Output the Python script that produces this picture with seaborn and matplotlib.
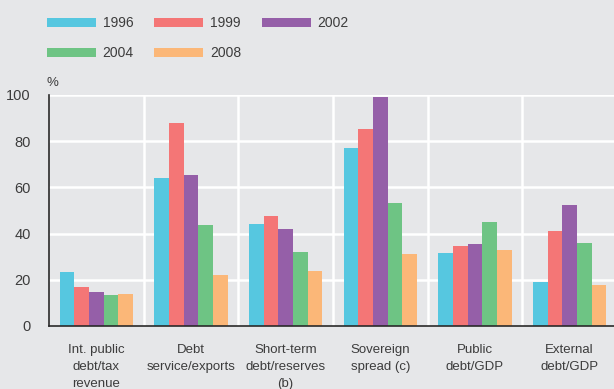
import matplotlib
matplotlib.use("Agg")
import matplotlib.pyplot as plt
import seaborn as sns
import pandas as pd

# Debt indicators by year (per cent)
indicators = [
    "Int. public\ndebt/tax\nrevenue",
    "Debt\nservice/exports",
    "Short-term\ndebt/reserves\n(b)",
    "Sovereign\nspread (c)",
    "Public\ndebt/GDP",
    "External\ndebt/GDP",
]
years = ["1996", "1999", "2002", "2004", "2008"]
v1996 = [23.5, 64.2, 44.3, 77.2, 31.7, 19.2]
v1999 = [17.0, 87.7, 47.7, 85.4, 34.8, 41.2]
v2002 = [14.8, 65.5, 42.1, 99.3, 35.6, 52.4]
v2004 = [13.5, 43.9, 32.2, 53.4, 45.1, 36.0]
v2008 = [14.0, 22.2, 23.9, 31.3, 33.0, 17.9]
series = {"1996": v1996, "1999": v1999, "2002": v2002, "2004": v2004, "2008": v2008}
colors = ["#56C7E0", "#F47676", "#955FA8", "#6EC484", "#FBB778"]

df = pd.DataFrame(
    [(ind, yr, val) for yr in years for ind, val in zip(indicators, series[yr])],
    columns=["indicator", "year", "value"],
)

BG = "#E6E7E9"
TXT = "#3C3C3C"
sns.set_theme(style="white")
plt.rcParams["font.family"] = ["Liberation Sans", "DejaVu Sans"]

fig = plt.figure(figsize=(6.14, 3.89), dpi=100, facecolor=BG)
ax = fig.add_axes([0.0798, 0.162, 0.925, 0.594])
ax.set_facecolor(BG)

sns.barplot(
    data=df, x="indicator", y="value", hue="year",
    order=indicators, hue_order=years, palette=colors,
    width=0.775, saturation=1, gap=0, linewidth=0, ax=ax,
)

ax.set_xlim(-0.5, len(indicators) - 0.5)
ax.set_ylim(0, 100)
ax.set_yticks([0, 20, 40, 60, 80, 100])
ax.set_xlabel("")
ax.set_ylabel("")

# white grid: horizontal at ticks, vertical between categories
for y in [20, 40, 60, 80, 100]:
    ax.axhline(y, color="white", lw=1.8, zorder=0)
for x in [0.5, 1.5, 2.5, 3.5, 4.5]:
    ax.axvline(x, color="white", lw=1.8, zorder=0)

for side in ["top", "right"]:
    ax.spines[side].set_visible(False)
for side in ["left", "bottom"]:
    ax.spines[side].set_color("#2A2A2A")
    ax.spines[side].set_linewidth(1.2)

ax.tick_params(axis="y", length=0, pad=13, labelsize=10.5, labelcolor=TXT)
ax.tick_params(axis="x", length=0, pad=13, labelsize=9.5, labelcolor=TXT)
for lbl in ax.get_xticklabels():
    lbl.set_linespacing(1.58)

ax.text(-0.005, 1.025, "%", transform=ax.transAxes, fontsize=9.5,
        color=TXT, ha="left", va="bottom")

handles, labels = ax.get_legend_handles_labels()
ax.get_legend().remove()
order = [0, 3, 1, 4, 2]
fig.legend(
    [handles[i] for i in order], [labels[i] for i in order],
    loc="upper left", bbox_to_anchor=(0.0765, 0.958), ncol=3,
    frameon=False, fontsize=10, handlelength=3.5, handleheight=0.6,
    handletextpad=0.5, columnspacing=1.5, labelspacing=1.15,
    borderpad=0, borderaxespad=0, labelcolor=TXT,
)

fig.savefig("out.png", dpi=100, facecolor=BG)
